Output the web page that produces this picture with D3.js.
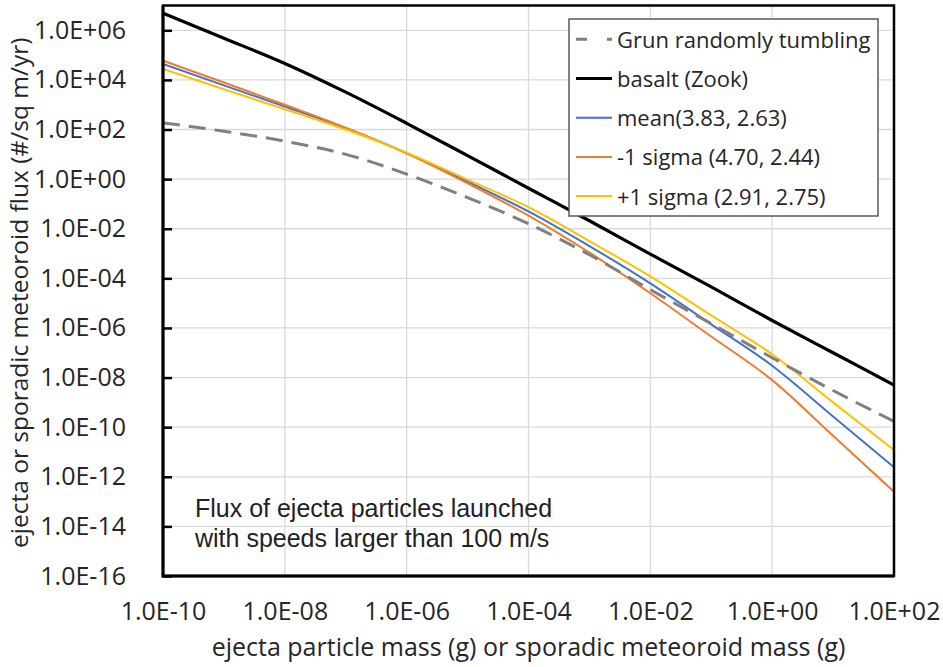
<!DOCTYPE html>
<html>
<head>
<meta charset="utf-8">
<script src="https://cdn.jsdelivr.net/npm/d3@7"></script>
<style>
  body { margin: 0; background: #fff; }
  svg { display: block; }
</style>
</head>
<body>
<svg id="chart" width="943" height="667"></svg>
<script>
// ejecta mass (g), one point per decade
const massG = [1e-10, 1e-9, 1e-8, 1e-7, 1e-6, 1e-5, 1e-4, 1e-3, 1e-2, 1e-1, 1e0, 1e1, 1e2];

// flux (#/sq m/yr)
const grunFlux   = [186, 85, 34, 10, 1.6, 0.18, 0.016, 8.9e-4, 3.5e-5, 1.5e-6, 6.3e-8, 3.0e-9, 1.7e-10];
const basaltFlux = [4.9e6, 4.8e5, 4.6e4, 3.2e3, 178, 8.9, 0.43, 0.021, 9.5e-4, 4.5e-5, 2.0e-6, 1.0e-7, 5.0e-9];
const meanFlux   = [4.4e4, 6.0e3, 850, 112, 11.2, 0.79, 0.05, 2.0e-3, 6.3e-5, 1.4e-6, 3.0e-8, 2.7e-10, 2.4e-12];
const minusFlux  = [6.0e4, 7.9e3, 1000, 120, 11, 0.68, 0.034, 1.1e-3, 2.5e-5, 4.5e-7, 7.9e-9, 4.5e-11, 2.5e-13];
const plusFlux   = [2.75e4, 4.2e3, 660, 100, 11.7, 0.95, 0.074, 3.2e-3, 1.2e-4, 3.2e-6, 8.7e-8, 1.0e-9, 1.2e-11];

const seriesNames = ["Grun randomly tumbling", "basalt (Zook)", "mean(3.83, 2.63)", "-1 sigma (4.70, 2.44)", "+1 sigma (2.91, 2.75)"];

// ticks every two decades
const xTicks = [1e-10, 1e-8, 1e-6, 1e-4, 1e-2, 1e0, 1e2];
const yTicks = [1e-16, 1e-14, 1e-12, 1e-10, 1e-8, 1e-6, 1e-4, 1e-2, 1e0, 1e2, 1e4, 1e6];

const annotation = ["Flux of ejecta particles launched", "with speeds larger than 100 m/s"];

const margin = { top: 5.5, right: 49, bottom: 91, left: 163 };
const width = 943, height = 667;

const svg = d3.select("#chart");

const x = d3.scaleLog()
  .domain([1e-10, 1e2])
  .range([margin.left, width - margin.right]);
const y = d3.scaleLog()
  .domain([1e-16, 1e7])
  .range([height - margin.bottom, margin.top]);

// excel style "1.0E+06"
const sci = v => {
  const e = Math.round(Math.log10(v));
  return "1.0E" + (e < 0 ? "-" : "+") + String(Math.abs(e)).padStart(2, "0");
};

const labelFont = "'Open Sans', sans-serif";

// grid
svg.append("g")
  .selectAll("line")
  .data(xTicks)
  .join("line")
    .attr("x1", d => x(d)).attr("x2", d => x(d))
    .attr("y1", y.range()[1]).attr("y2", y.range()[0])
    .attr("stroke", "#d9d9d9")
    .attr("stroke-width", 1.3);
svg.append("g")
  .selectAll("line")
  .data(yTicks)
  .join("line")
    .attr("x1", x.range()[0]).attr("x2", x.range()[1])
    .attr("y1", d => y(d)).attr("y2", d => y(d))
    .attr("stroke", "#d9d9d9")
    .attr("stroke-width", 1.3);

// y axis with inside ticks
const yAxis = svg.append("g")
  .attr("transform", `translate(${margin.left},0)`)
  .call(d3.axisLeft(y).tickValues(yTicks).tickFormat(sci).tickSizeInner(-9).tickSizeOuter(0).tickPadding(37));
yAxis.select(".domain").remove();
yAxis.selectAll(".tick line").attr("stroke", "#000").attr("stroke-width", 2.5);
yAxis.selectAll(".tick text")
  .attr("font-family", labelFont)
  .attr("font-size", 25)
  .attr("fill", "#262626");

// x axis, labels only
const xAxis = svg.append("g")
  .attr("transform", `translate(0,${height - margin.bottom})`)
  .call(d3.axisBottom(x).tickValues(xTicks).tickFormat(sci).tickSize(0).tickPadding(26));
xAxis.select(".domain").remove();
xAxis.selectAll(".tick text")
  .attr("font-family", labelFont)
  .attr("font-size", 25)
  .attr("fill", "#262626");

// lines
svg.append("clipPath").attr("id", "plotclip")
  .append("rect")
    .attr("x", x.range()[0]).attr("y", y.range()[1])
    .attr("width", x.range()[1] - x.range()[0])
    .attr("height", y.range()[0] - y.range()[1]);

const series = [
  { name: seriesNames[0], values: grunFlux, color: "#808080", w: 3, dash: "17,9" },
  { name: seriesNames[1], values: basaltFlux, color: "#000000", w: 3.2, dash: null },
  { name: seriesNames[2], values: meanFlux, color: "#4472c4", w: 2, dash: null },
  { name: seriesNames[3], values: minusFlux, color: "#ed7d31", w: 2, dash: null },
  { name: seriesNames[4], values: plusFlux, color: "#ffc000", w: 2, dash: null }
];

const line = d3.line()
  .x(d => x(d[0]))
  .y(d => y(d[1]))
  .curve(d3.curveMonotoneX);

// draw order: blue, orange, yellow, grey, black on top
const drawOrder = [2, 3, 4, 0, 1];
svg.append("g").attr("clip-path", "url(#plotclip)")
  .selectAll("path")
  .data(drawOrder.map(i => series[i]))
  .join("path")
    .attr("d", s => line(massG.map((m, i) => [m, s.values[i]])))
    .attr("fill", "none")
    .attr("stroke", s => s.color)
    .attr("stroke-width", s => s.w)
    .attr("stroke-dasharray", s => s.dash)
    .attr("stroke-linejoin", "round");

// plot frame
svg.append("rect")
  .attr("x", x.range()[0]).attr("y", y.range()[1])
  .attr("width", x.range()[1] - x.range()[0])
  .attr("height", y.range()[0] - y.range()[1])
  .attr("fill", "none")
  .attr("stroke", "#000")
  .attr("stroke-width", 2.5);
svg.append("path")
  .attr("d", `M${x.range()[0]},${y.range()[1]}V${y.range()[0]}H${x.range()[1]}`)
  .attr("fill", "none")
  .attr("stroke", "#000")
  .attr("stroke-width", 3);

// annotation
svg.append("text")
  .attr("font-family", "'Liberation Sans', Arial, sans-serif")
  .attr("font-size", 25)
  .attr("fill", "#222")
  .selectAll("tspan")
  .data(annotation)
  .join("tspan")
    .attr("x", 195)
    .attr("y", (d, i) => 517 + i * 30)
    .text(d => d);

// legend
const legend = svg.append("g").attr("transform", "translate(569,19)");
legend.append("rect")
  .attr("width", 309).attr("height", 197)
  .attr("fill", "#fff")
  .attr("stroke", "#595959")
  .attr("stroke-width", 1.5);
const rows = legend.selectAll("g")
  .data(series)
  .join("g")
    .attr("transform", (d, i) => `translate(0,${20.3 + i * 39.2})`);
rows.append("line")
  .attr("x1", 7).attr("x2", 43)
  .attr("stroke", d => d.color)
  .attr("stroke-width", d => d.w)
  .attr("stroke-dasharray", d => d.dash ? "11,20" : null);
rows.append("text")
  .attr("x", 48)
  .attr("y", 8.5)
  .attr("font-family", labelFont)
  .attr("font-size", 22)
  .attr("fill", "#262626")
  .text(d => d.name);

// axis titles
svg.append("text")
  .attr("x", (x.range()[0] + x.range()[1]) / 2)
  .attr("y", 656)
  .attr("text-anchor", "middle")
  .attr("font-family", labelFont)
  .attr("font-size", 25)
  .attr("fill", "#262626")
  .text("ejecta particle mass (g) or sporadic meteoroid mass (g)");

svg.append("text")
  .attr("transform", `translate(28,${(y.range()[0] + y.range()[1]) / 2 + 2}) rotate(-90)`)
  .attr("text-anchor", "middle")
  .attr("font-family", labelFont)
  .attr("font-size", 24.5)
  .attr("fill", "#262626")
  .text("ejecta or sporadic meteoroid flux (#/sq m/yr)");
</script>
</body>
</html>
